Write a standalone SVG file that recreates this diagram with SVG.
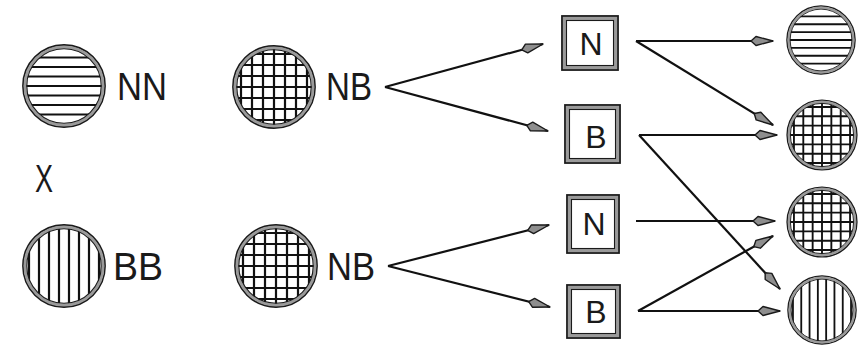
<svg xmlns="http://www.w3.org/2000/svg" xmlns:xlink="http://www.w3.org/1999/xlink" width="861" height="347" viewBox="0 0 861 347">
<style>
.h{stroke:#111;stroke-width:2.2;fill:none}
.ro{fill:#fff;stroke:#1a1a1a;stroke-width:1.8}
.rg{fill:none;stroke:#9a9a9a;stroke-width:3}
.ri{fill:none;stroke:#1a1a1a;stroke-width:1.1}
.t{font-family:"Liberation Sans",Arial,sans-serif;fill:#1a1a1a}
.lbl{font-size:38px}
.bl{font-size:32px;text-anchor:middle}
.bo{fill:#fff;stroke:#1a1a1a;stroke-width:1.8}
.bg{fill:none;stroke:#9a9a9a;stroke-width:3}
.bi{fill:none;stroke:#1a1a1a;stroke-width:1.1}
.c{stroke:#111;stroke-width:2.2;fill:none;marker-end:url(#ah)}
</style>
<defs>
<marker id="ah" viewBox="0 0 24 12" refX="23" refY="6" markerWidth="24" markerHeight="12" markerUnits="userSpaceOnUse" orient="auto">
<path d="M1,6 L6,1.5 L23,6 L6,10.5 Z" fill="#8e8e8e" stroke="#1a1a1a" stroke-width="1.4" stroke-linejoin="round"/>
</marker>
<clipPath id="cc"><circle r="38"/></clipPath>
<g id="hz">
<circle class="ro" r="41"/>
<g clip-path="url(#cc)" class="h">
<line x1="-41" y1="-28.5" x2="41" y2="-28.5"/><line x1="-41" y1="-19" x2="41" y2="-19"/><line x1="-41" y1="-9.5" x2="41" y2="-9.5"/><line x1="-41" y1="0" x2="41" y2="0"/><line x1="-41" y1="9.5" x2="41" y2="9.5"/><line x1="-41" y1="19" x2="41" y2="19"/><line x1="-41" y1="28.5" x2="41" y2="28.5"/>
</g>
<circle class="rg" r="39"/><circle class="ri" r="37.2"/>
</g>
<g id="vt">
<circle class="ro" r="41"/>
<g clip-path="url(#cc)" class="h">
<line y1="-41" x1="-35" y2="41" x2="-35"/><line y1="-41" x1="-25" y2="41" x2="-25"/><line y1="-41" x1="-15" y2="41" x2="-15"/><line y1="-41" x1="-5" y2="41" x2="-5"/><line y1="-41" x1="5" y2="41" x2="5"/><line y1="-41" x1="15" y2="41" x2="15"/><line y1="-41" x1="25" y2="41" x2="25"/><line y1="-41" x1="35" y2="41" x2="35"/>
</g>
<circle class="rg" r="39"/><circle class="ri" r="37.2"/>
</g>
<g id="gr">
<circle class="ro" r="41"/>
<g clip-path="url(#cc)" class="h">
<line x1="-41" y1="-33" x2="41" y2="-33"/><line x1="-41" y1="-22" x2="41" y2="-22"/><line x1="-41" y1="-11" x2="41" y2="-11"/><line x1="-41" y1="0" x2="41" y2="0"/><line x1="-41" y1="11" x2="41" y2="11"/><line x1="-41" y1="22" x2="41" y2="22"/><line x1="-41" y1="33" x2="41" y2="33"/>
<line y1="-41" x1="-33" y2="41" x2="-33"/><line y1="-41" x1="-22" y2="41" x2="-22"/><line y1="-41" x1="-11" y2="41" x2="-11"/><line y1="-41" x1="0" y2="41" x2="0"/><line y1="-41" x1="11" y2="41" x2="11"/><line y1="-41" x1="22" y2="41" x2="22"/><line y1="-41" x1="33" y2="41" x2="33"/>
</g>
<circle class="rg" r="39"/><circle class="ri" r="37.2"/>
</g>
</defs>
<rect width="861" height="347" fill="#fff"/>

<g id="p1"><use xlink:href="#hz" transform="translate(64,86)"/><text class="t lbl" x="117" y="100" textLength="50" lengthAdjust="spacingAndGlyphs">NN</text></g>
<g id="cross"><text class="t lbl" x="35" y="192" textLength="18" lengthAdjust="spacingAndGlyphs">X</text></g>
<g id="p2"><use xlink:href="#vt" transform="translate(64,266)"/><text class="t lbl" x="113" y="280" textLength="50" lengthAdjust="spacingAndGlyphs">BB</text></g>
<g id="f1a"><use xlink:href="#gr" transform="translate(274,87)"/><text class="t lbl" x="326" y="100" textLength="46" lengthAdjust="spacingAndGlyphs">NB</text></g>
<g id="f1b"><use xlink:href="#gr" transform="translate(276,266)"/><text class="t lbl" x="327" y="280" textLength="48" lengthAdjust="spacingAndGlyphs">NB</text></g>

<g id="g1"><rect class="bo" x="562" y="16" width="56" height="54"/><rect class="bg" x="564.5" y="18.5" width="51" height="49"/><rect class="bi" x="566.5" y="20.5" width="47" height="45"/><text class="t bl" x="591" y="55">N</text></g>
<g id="g2"><rect class="bo" x="565" y="105" width="55" height="58"/><rect class="bg" x="567.5" y="107.5" width="50" height="53"/><rect class="bi" x="569.5" y="109.5" width="46" height="49"/><text class="t bl" x="596" y="148">B</text></g>
<g id="g3"><rect class="bo" x="567" y="195" width="52" height="58"/><rect class="bg" x="569.5" y="197.5" width="47" height="53"/><rect class="bi" x="571.5" y="199.5" width="43" height="49"/><text class="t bl" x="594" y="235">N</text></g>
<g id="g4"><rect class="bo" x="567" y="285" width="53" height="53"/><rect class="bg" x="569.5" y="287.5" width="48" height="48"/><rect class="bi" x="571.5" y="289.5" width="44" height="44"/><text class="t bl" x="596" y="323">B</text></g>

<g id="o1"><use xlink:href="#hz" transform="translate(821,40) scale(0.83)"/></g>
<g id="o2"><use xlink:href="#gr" transform="translate(822,135) scale(0.85)"/></g>
<g id="o3"><use xlink:href="#gr" transform="translate(822,222) scale(0.85)"/></g>
<g id="o4"><use xlink:href="#vt" transform="translate(822,310) scale(0.83)"/></g>

<g id="connectors">
<line class="c" x1="385" y1="87" x2="543" y2="44"/>
<line class="c" x1="385" y1="87" x2="548" y2="131"/>
<line class="c" x1="388" y1="266" x2="549" y2="225"/>
<line class="c" x1="388" y1="266" x2="550" y2="307"/>
<line class="c" x1="636" y1="41" x2="773" y2="41"/>
<line class="c" x1="636" y1="41" x2="773" y2="125"/>
<line class="c" x1="639" y1="135" x2="777" y2="135"/>
<line class="c" x1="639" y1="135" x2="780" y2="289"/>
<line class="c" x1="636" y1="221" x2="775" y2="221"/>
<line class="c" x1="638" y1="311" x2="780" y2="311"/>
<line class="c" x1="638" y1="311" x2="773" y2="236"/>
</g>
</svg>
